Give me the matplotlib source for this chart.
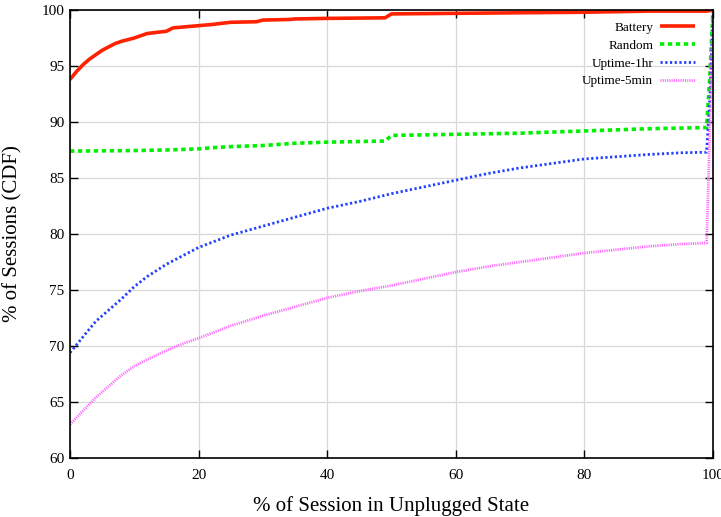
import matplotlib
matplotlib.use('Agg')
from matplotlib import pyplot as plt

# CDF curves (x = % of session unplugged, y = % of sessions)
battery_x = [0, 1, 2, 3, 4, 5, 6, 7, 8, 9, 10, 12, 15, 16, 18, 20, 22, 25, 29, 30, 34, 35, 40, 49, 50, 60, 70, 80, 90, 99, 100]
battery_y = [93.8, 94.5, 95.1, 95.6, 96.0, 96.4, 96.7, 97.0, 97.2, 97.35, 97.5, 97.9, 98.1, 98.4, 98.5, 98.6, 98.7, 98.9, 98.95, 99.1, 99.15, 99.2, 99.25, 99.3, 99.65, 99.7, 99.75, 99.8, 99.9, 99.9, 100.0]

random_x = [0, 10, 15, 20, 22, 25, 30, 35, 40, 49, 50, 60, 70, 80, 90, 99, 99.5, 100]
random_y = [87.4, 87.45, 87.5, 87.6, 87.7, 87.8, 87.9, 88.1, 88.2, 88.3, 88.8, 88.9, 89.0, 89.2, 89.4, 89.5, 94.0, 100.0]

uptime1h_x = [0, 2, 4, 6, 8, 10, 12, 15, 18, 20, 25, 30, 35, 40, 45, 50, 55, 60, 65, 70, 75, 80, 85, 90, 95, 99, 99.5, 100]
uptime1h_y = [69.4, 70.8, 72.2, 73.2, 74.2, 75.3, 76.2, 77.3, 78.2, 78.8, 79.9, 80.7, 81.5, 82.3, 82.9, 83.6, 84.2, 84.8, 85.4, 85.9, 86.3, 86.7, 86.9, 87.1, 87.25, 87.3, 92.0, 100.0]

uptime5m_x = [0, 2, 4, 6, 8, 10, 12, 15, 18, 20, 25, 30, 35, 40, 45, 50, 55, 60, 65, 70, 75, 80, 85, 90, 95, 99, 99.3, 100]
uptime5m_y = [63.0, 64.2, 65.4, 66.4, 67.4, 68.2, 68.8, 69.6, 70.3, 70.7, 71.8, 72.7, 73.5, 74.3, 74.9, 75.4, 76.0, 76.6, 77.1, 77.5, 77.9, 78.3, 78.6, 78.9, 79.1, 79.2, 85.0, 100.0]

plt.rcParams['font.family'] = ['Liberation Serif', 'DejaVu Serif']

fig = plt.figure(figsize=(7.21, 5.17), dpi=100)
ax = fig.add_axes([0.0971, 0.1141, 0.8918, 0.8666])

ax.plot(battery_x, battery_y, color='#ff2200', lw=2.6, label='Battery', solid_capstyle='butt')
ax.plot(random_x, random_y, color='#00ee00', lw=2.6, linestyle=(0, (1.2, 1.0)), label='Random')
ax.plot(uptime1h_x, uptime1h_y, color='#2040ff', lw=2.0, linestyle=(0, (0.8, 0.9)), label='Uptime-1hr')
ax.plot(uptime5m_x, uptime5m_y, color='#ff66ff', lw=2.0, linestyle=(0, (0.4, 0.4)), label='Uptime-5min')

ax.set_xlim(0, 100)
ax.set_ylim(60, 100)
ax.set_xticks([0, 20, 40, 60, 80, 100])
ax.set_yticks([60, 65, 70, 75, 80, 85, 90, 95, 100])
ax.grid(True, color='#d8d8d8', lw=0.9)
ax.set_axisbelow(True)
ax.tick_params(direction='in', top=True, right=True, length=6, width=1, labelsize=11)
ax.tick_params(axis='x', pad=8)
ax.tick_params(axis='y', pad=4)
for s in ax.spines.values():
    s.set_linewidth(1.2)

ax.set_xlabel('% of Session in Unplugged State', fontsize=15, labelpad=10)
ax.set_ylabel('% of Sessions (CDF)', fontsize=15, labelpad=14)

ax.legend(loc='upper right', bbox_to_anchor=(0.991, 1.0), frameon=False, markerfirst=False,
          fontsize=9.5, handlelength=2.7, handletextpad=0.5, borderaxespad=0.5,
          labelspacing=0.42)

fig.savefig('out.png', dpi=100)
